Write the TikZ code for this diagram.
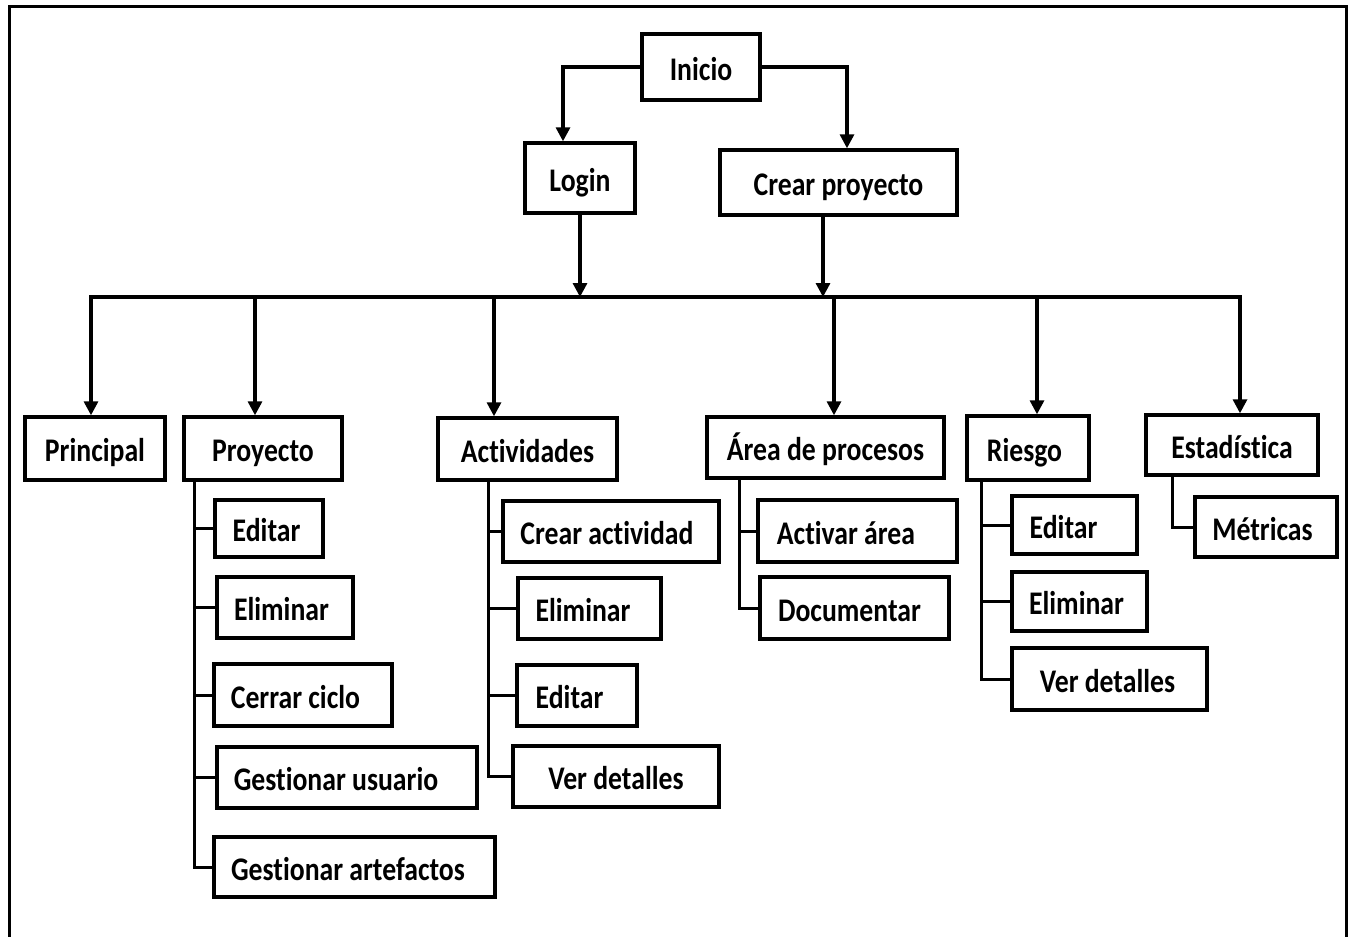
\documentclass[tikz,border=0pt]{standalone}
\usepackage{fontspec}
\setmainfont[FakeStretch=0.84,Ligatures=NoCommon]{Carlito}
\usetikzlibrary{arrows.meta}

% box with explicit size; #6 moves the label left by that many points
\newcommand\bx[7]{%
  \node[box, minimum width=#4pt, minimum height=#5pt] (#1) at (#2,#3)
    {\hspace*{-#6pt}\hspace*{-#6pt}#7};}

\begin{document}
\begin{tikzpicture}[x=1pt,y=-1pt,
  box/.style={draw, line width=3.4pt, inner sep=0pt,
    text height=26pt, text depth=0pt,
    font=\fontsize{33}{33}\selectfont\bfseries},
  arr/.style={line width=3.2pt, -{Triangle[length=14pt,width=14pt]}},
  arrtwo/.style={line width=3.2pt,
    {Triangle[length=14pt,width=14pt]}-{Triangle[length=14pt,width=14pt]}},
  tree/.style={line width=3pt},
  frame/.style={line width=3.5pt}]

\useasboundingbox (0,0) rectangle (1353,937);
\fill[white] (0,0) rectangle (1353,937);
\draw[frame] (9.5,940) -- (9.5,6.5) -- (1346.5,6.5) -- (1346.5,940);

% top level
\bx{inicio}{701}{67}{118}{66}{0}{Inicio}
\bx{login}{580}{178}{110}{70}{0}{Login}
\bx{crear}{838.5}{182.5}{237}{65}{0}{Crear proyecto}

% main modules
\bx{prin}{95}{448.5}{140}{63}{0}{Principal}
\bx{proy}{263}{448.5}{158}{63}{0}{Proyecto}
\bx{act}{527.5}{449}{179}{62}{0}{Actividades}
\bx{area}{825.5}{447.5}{237}{61}{0}{Área de procesos}
\bx{ries}{1028}{448}{122}{64}{3.5}{Riesgo}
\bx{est}{1232}{445}{172}{60}{0}{Estadística}
\bx{met}{1266}{527}{142}{60}{3.5}{Métricas}

% Proyecto options
\bx{pEd}{269}{528.5}{108}{57}{2.5}{Editar}
\bx{pEl}{285}{607.5}{136}{61}{3.5}{Eliminar}
\bx{pCc}{303}{695}{178}{62}{7.5}{Cerrar ciclo}
\bx{pGu}{347}{777.5}{260}{61}{11}{Gestionar usuario}
\bx{pGa}{354.5}{867}{281}{60}{6.5}{Gestionar artefactos}

% Actividades options
\bx{aCr}{611}{531.5}{216}{61}{4}{Crear actividad}
\bx{aEl}{589.5}{608.5}{143}{61}{6.5}{Eliminar}
\bx{aEd}{577}{695.5}{120}{61}{7.5}{Editar}
\bx{aVd}{616}{776.5}{206}{61}{0}{Ver detalles}

% Área de procesos options
\bx{rAc}{857.5}{531}{199}{62}{11.5}{Activar área}
\bx{rDo}{854.5}{608}{189}{62}{5}{Documentar}

% Riesgo options
\bx{kEd}{1074.5}{525}{125}{58}{11}{Editar}
\bx{kEl}{1079.5}{601.5}{135}{59}{3}{Eliminar}
\bx{kVd}{1109.5}{679}{195}{62}{2}{Ver detalles}

% distribution bus
\coordinate (bus) at (0,297);

\draw[arr] (inicio.west) -| (login.north -| 563,0);
\draw[arr] (inicio.east) -| (crear.north -| 847,0);
\draw[arr] (login.south) -- (login.south |- bus);
\draw[arr] (crear.south -| 823,0) -- (bus -| 823,0);

\draw[arrtwo] (prin.north -| 91,0) |- (bus -| 1240,0) -- (est.north -| 1240,0);
\draw[arr] (bus -| 255,0) -- (proy.north -| 255,0);
\draw[arr] (bus -| 494,0) -- (act.north -| 494,0);
\draw[arr] (bus -| 834,0) -- (area.north -| 834,0);
\draw[arr] (bus -| 1037,0) -- (ries.north -| 1037,0);

% sub-option trees
\foreach \c in {pEd,pEl,pCc,pGu,pGa}
  \draw[tree] (proy.south -| 194,0) |- (\c.west);
\foreach \c in {aCr,aEl,aEd,aVd}
  \draw[tree] (act.south -| 488,0) |- (\c.west);
\foreach \c in {rAc,rDo}
  \draw[tree] (area.south -| 739,0) |- (\c.west);
\foreach \c in {kEd,kEl,kVd}
  \draw[tree] (ries.south -| 981,0) |- (\c.west);
\draw[tree] (est.south -| 1172,0) |- (met.west);

\end{tikzpicture}
\end{document}
